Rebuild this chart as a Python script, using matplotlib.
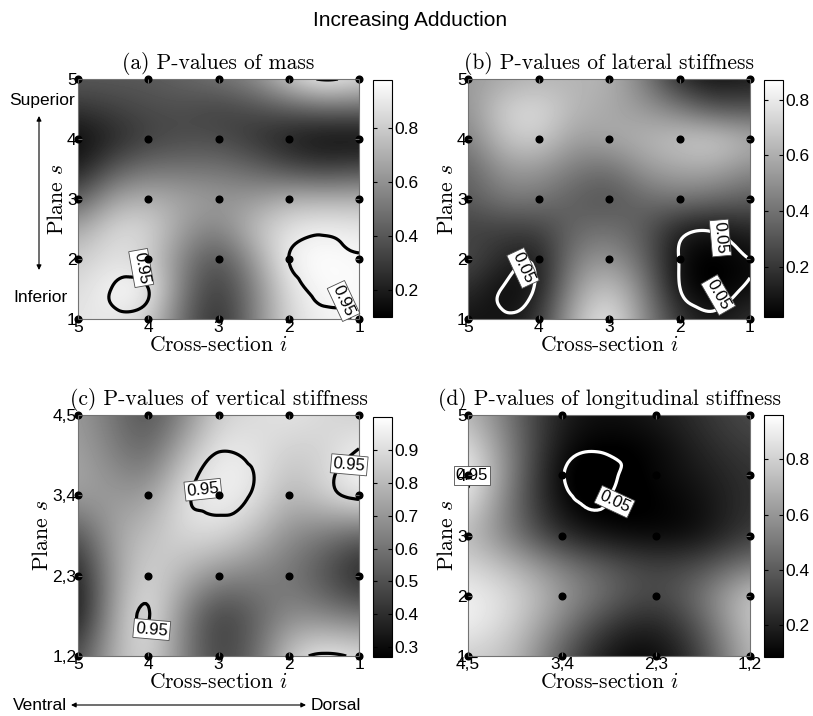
import numpy as np
import matplotlib.pyplot as plt
import matplotlib.tri as mtri

plt.rcParams['font.family'] = ['Liberation Sans', 'DejaVu Sans']
plt.rcParams['mathtext.fontset'] = 'cm'

# grid coordinates (nodes + midpoints); rows go top -> bottom, columns left -> right
x_ab = [5, 4.5, 4, 3.5, 3, 2.5, 2, 1.5, 1]
y_ab = [5, 4.5, 4, 3.5, 3, 2.5, 2, 1.5, 1]
x_c = [5, 4.5, 4, 3.5, 3, 2.5, 2, 1.5, 1]
y_c = [4, 3.5, 3, 2.5, 2, 1.5, 1]
x_d = [4, 3.5, 3, 2.5, 2, 1.5, 1]
y_d = [5, 4.5, 4, 3.5, 3, 2.5, 2, 1.5, 1]

# (a) p-values of mass
p_mass = [
    [0.41, 0.41, 0.41, 0.45, 0.50, 0.58, 0.80, 0.965, 0.85],
    [0.28, 0.32, 0.36, 0.36, 0.32, 0.36, 0.41, 0.45, 0.45],
    [0.12, 0.23, 0.32, 0.36, 0.36, 0.28, 0.19, 0.13, 0.13],
    [0.19, 0.41, 0.50, 0.50, 0.50, 0.45, 0.36, 0.32, 0.36],
    [0.41, 0.67, 0.72, 0.67, 0.63, 0.63, 0.72, 0.72, 0.72],
    [0.67, 0.85, 0.85, 0.63, 0.54, 0.76, 0.89, 0.93, 0.90],
    [0.80, 0.88, 0.82, 0.54, 0.36, 0.63, 0.95, 0.98, 0.955],
    [0.85, 0.96, 0.952, 0.50, 0.28, 0.54, 0.88, 0.97, 0.955],
    [0.89, 0.90, 0.82, 0.45, 0.23, 0.54, 0.85, 0.93, 0.96],
]

# (b) p-values of lateral stiffness
p_lat = [
    [0.53, 0.58, 0.62, 0.62, 0.62, 0.44, 0.15, 0.06, 0.11],
    [0.50, 0.72, 0.76, 0.63, 0.58, 0.53, 0.44, 0.30, 0.30],
    [0.44, 0.67, 0.72, 0.54, 0.58, 0.62, 0.68, 0.72, 0.62],
    [0.34, 0.53, 0.53, 0.43, 0.38, 0.53, 0.58, 0.58, 0.48],
    [0.32, 0.42, 0.42, 0.33, 0.28, 0.37, 0.42, 0.38, 0.33],
    [0.23, 0.23, 0.23, 0.36, 0.40, 0.32, 0.12, 0.075, 0.15],
    [0.28, 0.15, 0.09, 0.45, 0.53, 0.36, 0.045, 0.0, 0.05],
    [0.18, 0.04, 0.09, 0.53, 0.70, 0.45, 0.055, 0.0, 0.07],
    [0.08, 0.08, 0.18, 0.62, 0.83, 0.49, 0.20, 0.08, 0.20],
]

# (c) p-values of vertical stiffness
p_vert = [
    [0.71, 0.60, 0.49, 0.64, 0.86, 0.89, 0.93, 0.89, 0.85],
    [0.74, 0.64, 0.56, 0.80, 0.955, 0.93, 0.85, 0.87, 0.975],
    [0.74, 0.71, 0.71, 0.92, 0.97, 0.935, 0.78, 0.88, 0.98],
    [0.49, 0.74, 0.82, 0.89, 0.90, 0.80, 0.67, 0.60, 0.53],
    [0.34, 0.71, 0.89, 0.78, 0.67, 0.64, 0.60, 0.49, 0.34],
    [0.31, 0.74, 0.955, 0.64, 0.42, 0.53, 0.67, 0.64, 0.60],
    [0.49, 0.78, 0.90, 0.64, 0.45, 0.56, 0.85, 0.975, 0.92],
]

# (d) p-values of longitudinal stiffness
p_long = [
    [0.74, 0.44, 0.17, 0.13, 0.17, 0.26, 0.35],
    [0.87, 0.48, 0.12, 0.075, 0.10, 0.22, 0.30],
    [0.965, 0.48, 0.06, 0.03, 0.11, 0.17, 0.26],
    [0.87, 0.44, 0.10, 0.053, 0.08, 0.13, 0.26],
    [0.74, 0.48, 0.22, 0.13, 0.10, 0.13, 0.30],
    [0.83, 0.70, 0.52, 0.39, 0.30, 0.35, 0.52],
    [0.92, 0.83, 0.61, 0.44, 0.30, 0.48, 0.79],
    [0.92, 0.79, 0.52, 0.26, 0.17, 0.39, 0.79],
    [0.79, 0.74, 0.39, 0.13, 0.09, 0.30, 0.74],
]

ticks_5 = [1, 2, 3, 4, 5]
labels_5 = ['1', '2', '3', '4', '5']
ticks_4 = [1, 2, 3, 4]
labels_pairs = ['1,2', '2,3', '3,4', '4,5']

W, H = 813, 716
fig = plt.figure(figsize=(W / 100, H / 100), dpi=100)


def box(x0, y0, x1, y1):
    # pixel box -> figure fraction
    return [x0 / W, 1 - y1 / H, (x1 - x0) / W, (y1 - y0) / H]


def grid_tri(xs, ys):
    X, Y = np.meshgrid(xs, ys)
    nc = len(xs)
    tris = []
    for r in range(len(ys) - 1):
        for c in range(nc - 1):
            a = r * nc + c
            tris.append([a, a + 1, a + nc])
            tris.append([a + 1, a + nc + 1, a + nc])
    return mtri.Triangulation(X.ravel(), Y.ravel(), np.array(tris))


def panel(ax, cax, xs, ys, z, clim, cticks, lines,
          xticks, xlabels, yticks, ylabels, title):
    Z = np.array(z, dtype=float)
    dx = abs(xs[1] - xs[0]) / 2
    dy = abs(ys[1] - ys[0]) / 2
    im = ax.imshow(Z, cmap='gray', vmin=clim[0], vmax=clim[1], interpolation='bicubic',
                   extent=(xs[0] + dx, xs[-1] - dx, ys[-1] - dy, ys[0] + dy),
                   origin='upper', aspect='auto')

    tri = grid_tri(xs, ys)
    interp = mtri.CubicTriInterpolator(tri, Z.ravel(), kind='min_E')
    tri_f, z_f = mtri.UniformTriRefiner(tri).refine_field(Z.ravel(), triinterpolator=interp,
                                                          subdiv=4)
    for level, color, spots in lines:
        cs = ax.tricontour(tri_f, z_f, levels=[level], colors=color, linewidths=2.3)
        if not spots:
            continue
        lbls = ax.clabel(cs, fmt='%.2f', fontsize=12, inline=False,
                         manual=[(sx, sy) for sx, sy, _ in spots])
        for t, (sx, sy, rot) in zip(lbls, spots):
            t.set_position((sx, sy))
            t.set_color('k')
            t.set_rotation(rot)
            t.set_zorder(4)
            t.set_clip_on(False)
            t.set_bbox(dict(facecolor='white', edgecolor='0.3', linewidth=0.6, pad=1.5))

    # grid nodes
    nx, ny = np.meshgrid(xticks, yticks)
    ax.plot(nx.ravel(), ny.ravel(), 'o', color='k', ms=4.8, clip_on=False, zorder=5)

    ax.set_xlim(max(xticks), min(xticks))
    ax.set_ylim(min(yticks), max(yticks))
    ax.set_xticks(xticks)
    ax.set_xticklabels(xlabels)
    ax.set_yticks(yticks)
    ax.set_yticklabels(ylabels)
    ax.tick_params(direction='in', length=3, labelsize=12.5, pad=1,
                   top=True, right=True, color='0.4')
    ax.xaxis.set_zorder(6)
    ax.yaxis.set_zorder(6)
    for s in ax.spines.values():
        s.set_color('0.45')
        s.set_linewidth(0.8)
    ax.set_title(title, fontsize=15.5, family='cmr10', pad=7)
    ax.set_xlabel('Cross-section $i$', fontsize=15.5, family='cmr10', labelpad=0)
    ax.set_ylabel('Plane $s$', fontsize=15.5, family='cmr10', labelpad=0)

    cb = fig.colorbar(im, cax=cax, ticks=cticks)
    cb.outline.set_linewidth(0.8)
    cax.tick_params(direction='in', length=3, labelsize=12.5, left=True, right=True, pad=2)
    cax.set_yticklabels(['%g' % v for v in cticks])


ax_a = fig.add_axes(box(78, 79, 359, 319))
cx_a = fig.add_axes(box(373, 80, 392, 317))
panel(ax_a, cx_a, x_ab, y_ab, p_mass, (0.10, 0.98), [0.2, 0.4, 0.6, 0.8],
      [(0.95, 'k', [(4.1, 1.85, -80), (1.22, 1.3, -65)])],
      ticks_5, labels_5, ticks_5, labels_5, '(a) P-values of mass')

ax_b = fig.add_axes(box(468, 79, 750, 319))
cx_b = fig.add_axes(box(764, 80, 783, 317))
panel(ax_b, cx_b, x_ab, y_ab, p_lat, (0.02, 0.87), [0.2, 0.4, 0.6, 0.8],
      [(0.05, 'w', [(4.22, 1.85, -65), (1.42, 2.35, -85), (1.45, 1.4, -60)])],
      ticks_5, labels_5, ticks_5, labels_5, '(b) P-values of lateral stiffness')

ax_c = fig.add_axes(box(78, 415, 359, 656))
cx_c = fig.add_axes(box(373, 417, 392, 657))
panel(ax_c, cx_c, x_c, y_c, p_vert, (0.27, 1.0), [0.3, 0.4, 0.5, 0.6, 0.7, 0.8, 0.9],
      [(0.95, 'k', [(3.22, 3.07, 6), (1.14, 3.38, -5), (3.95, 1.33, -5)])],
      ticks_5, labels_5, ticks_4, labels_pairs, '(c) P-values of vertical stiffness')

ax_d = fig.add_axes(box(468, 415, 750, 656))
cx_d = fig.add_axes(box(764, 415, 783, 657))
panel(ax_d, cx_d, x_d, y_d, p_long, (0.085, 0.96), [0.2, 0.4, 0.6, 0.8],
      [(0.05, 'w', [(2.44, 3.56, -25)]), (0.95, 'k', [(3.96, 4.0, 0)])],
      ticks_4, labels_pairs, ticks_5, labels_5, '(d) P-values of longitudinal stiffness')

fig.text(410 / W, 1 - 20 / H, 'Increasing Adduction', ha='center', va='center', fontsize=15)

# orientation hints
fig.text(42 / W, 1 - 101 / H, 'Superior', ha='center', va='center', fontsize=12.5)
fig.text(40 / W, 1 - 298 / H, 'Inferior', ha='center', va='center', fontsize=12.5)
fig.add_artist(plt.Annotation('', xy=(39 / W, 1 - 116 / H), xytext=(39 / W, 1 - 270 / H),
                              xycoords='figure fraction', textcoords='figure fraction',
                              arrowprops=dict(arrowstyle='<|-|>', color='k', lw=0.8,
                                              mutation_scale=7, shrinkA=0, shrinkB=0)))
fig.text(40 / W, 1 - 705 / H, 'Ventral', ha='center', va='center', fontsize=12.5)
fig.text(336 / W, 1 - 705 / H, 'Dorsal', ha='center', va='center', fontsize=12.5)
fig.add_artist(plt.Annotation('', xy=(71 / W, 1 - 705 / H), xytext=(306 / W, 1 - 705 / H),
                              xycoords='figure fraction', textcoords='figure fraction',
                              arrowprops=dict(arrowstyle='<|-|>', color='k', lw=0.8,
                                              mutation_scale=7, shrinkA=0, shrinkB=0)))

fig.savefig('out.png', dpi=100)
